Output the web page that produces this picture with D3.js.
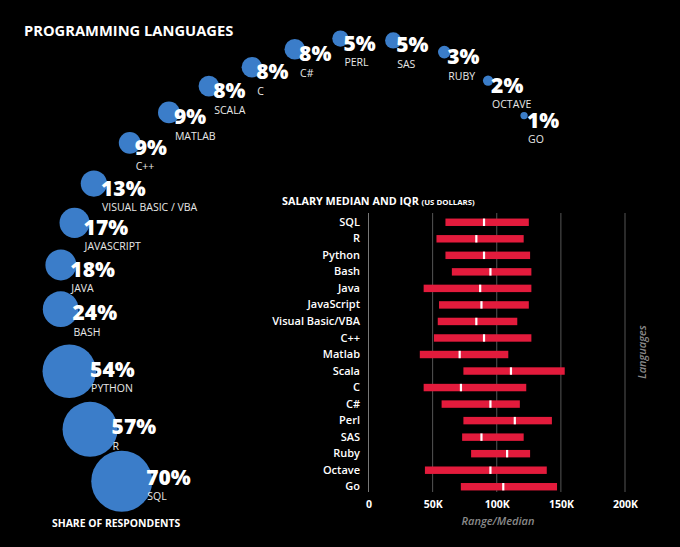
<!DOCTYPE html>
<html>
<head>
<meta charset="utf-8">
<script src="https://cdn.jsdelivr.net/npm/d3@7"></script>
<style>
  html, body { margin: 0; padding: 0; background: #000; }
  svg { display: block; }
  text { font-family: "Open Sans", "Noto Sans", sans-serif; }
</style>
</head>
<body>
<svg id="chart" width="680" height="547"></svg>
<script>
// ---------- DATA ----------
const shareLanguages = ["SQL","R","PYTHON","BASH","JAVA","JAVASCRIPT","VISUAL BASIC / VBA","C++","MATLAB","SCALA","C","C#","PERL","SAS","RUBY","OCTAVE","GO"];
const shareValues = [70,57,54,24,18,17,13,9,9,8,8,8,5,5,3,2,1];

const salaryLanguages = ["SQL","R","Python","Bash","Java","JavaScript","Visual Basic/VBA","C++","Matlab","Scala","C","C#","Perl","SAS","Ruby","Octave","Go"];
const salaryQ1     = [60000,53000,60000,65000,43000,55000,54000,51000,40000,74000,43000,57000,74000,73000,80000,44000,72000];
const salaryMedian = [90000,84000,90000,95000,87000,88000,84000,90000,71000,111000,72000,95000,114000,88000,108000,95000,105000];
const salaryQ3     = [125000,121000,126000,127000,127000,125000,116000,127000,109000,153000,123000,118000,143000,121000,126000,139000,147000];
const salaryTicks  = [0,50000,100000,150000,200000];

// ---------- SETUP ----------
const svg = d3.select("#chart");
svg.append("rect").attr("width",680).attr("height",547).attr("fill","#000");

// Title
svg.append("text").attr("x",24).attr("y",36)
  .attr("fill","#fff").attr("font-size",14.7).attr("font-weight",700)
  .text("PROGRAMMING LANGUAGES");

// ---------- BUBBLE ARC ----------
const shares = shareLanguages.map((name,i)=>({name, value: shareValues[i], i}));
const rScale = d3.scaleSqrt().domain([0,70]).range([0,30.5]);
// layout path: polar arc around a centre, positioned by rank
const arcCx = 370, arcCy = 320;
const angleScale = d3.scaleLinear().domain([0,3,6,7,12,16]).range([147,182,206.3,216.4,264,307]);
const distScale  = d3.scaleLinear().domain([0,4,6,8,10,12,14,16]).range([296,314,308,289,279,283,278,256]);
shares.forEach(d=>{
  const a = angleScale(d.i)*Math.PI/180;
  const dist = distScale(d.i);
  d.cx = arcCx + dist*Math.cos(a);
  d.cy = arcCy + dist*Math.sin(a);
  d.r = rScale(d.value);
});

const bub = svg.append("g");
bub.selectAll("circle").data(shares).join("circle")
  .attr("cx",d=>d.cx).attr("cy",d=>d.cy).attr("r",d=>d.r)
  .attr("fill","#3b7dc9");

const lab = svg.append("g");
shares.forEach(d=>{
  const tx = d.cx + Math.max(3, 3 + (d.r - 9));
  const ty = d.cy + 12 - Math.max(0, d.r - 16)*0.6;
  lab.append("text").attr("x",tx).attr("y",ty)
    .attr("fill","#fff").attr("font-size",21).attr("font-weight",800)
    .text(d.value + "%");
  lab.append("text").attr("x",tx+1).attr("y",ty+15.5)
    .attr("fill","#e8e8e8").attr("font-size",10.5)
    .text(d.name);
});

svg.append("text").attr("x",52).attr("y",527)
  .attr("fill","#fff").attr("font-size",10.4).attr("font-weight",700)
  .text("SHARE OF RESPONDENTS");

// ---------- SALARY CHART ----------
const x = d3.scaleLinear().domain([0,200000]).range([368.5,625]);
const y = d3.scaleBand().domain(salaryLanguages).range([214,495]).paddingInner(0.55).paddingOuter(0.275);

const t = svg.append("text").attr("x",282).attr("y",205)
  .attr("fill","#fff").attr("font-size",10.8).attr("font-weight",700);
t.append("tspan").text("SALARY MEDIAN AND IQR ");
t.append("tspan").attr("font-size",7.8).text("(US DOLLARS)");

// grid lines
svg.append("g").selectAll("line").data(salaryTicks).join("line")
  .attr("x1",d=>x(d)).attr("x2",d=>x(d))
  .attr("y1",213).attr("y2",492)
  .attr("stroke",d=>d===0?"#777":"#555").attr("stroke-width",1);

// x axis
const xAxis = d3.axisBottom(x).tickValues(salaryTicks)
  .tickFormat(d=> d===0 ? "0" : (d/1000)+"K").tickSize(0).tickPadding(0);
const gx = svg.append("g").attr("transform","translate(0,508)").call(xAxis);
gx.select(".domain").remove();
gx.selectAll("text").attr("fill","#fff").attr("font-size",10.5).attr("font-weight",700)
  .attr("dy",0).attr("font-family","'Open Sans', sans-serif");

svg.append("text").attr("x",498).attr("y",525).attr("text-anchor","middle")
  .attr("fill","#8a8a8a").attr("font-size",11).attr("font-style","italic").attr("font-weight",600)
  .text("Range/Median");

svg.append("text").attr("transform","translate(646,352) rotate(-90)")
  .attr("text-anchor","middle")
  .attr("fill","#8a8a8a").attr("font-size",11).attr("font-style","italic").attr("font-weight",600)
  .text("Languages");

// y axis labels
const yAxis = d3.axisLeft(y).tickSize(0).tickPadding(0);
const gy = svg.append("g").attr("transform","translate(360,0)").call(yAxis);
gy.select(".domain").remove();
gy.selectAll("text").attr("fill","#fff").attr("font-size",11).attr("font-weight",600)
  .attr("font-family","'Open Sans', sans-serif");

// bars
const rows = salaryLanguages.map((name,i)=>({name, q1: salaryQ1[i], med: salaryMedian[i], q3: salaryQ3[i]}));
svg.append("g").selectAll("rect").data(rows).join("rect")
  .attr("x",d=>x(d.q1)).attr("width",d=>x(d.q3)-x(d.q1))
  .attr("y",d=>y(d.name)).attr("height",y.bandwidth())
  .attr("fill","#e31b3c");
svg.append("g").selectAll("rect").data(rows).join("rect")
  .attr("x",d=>x(d.med)-1).attr("width",2.2)
  .attr("y",d=>y(d.name)).attr("height",y.bandwidth())
  .attr("fill","#fff");
</script>
</body>
</html>
